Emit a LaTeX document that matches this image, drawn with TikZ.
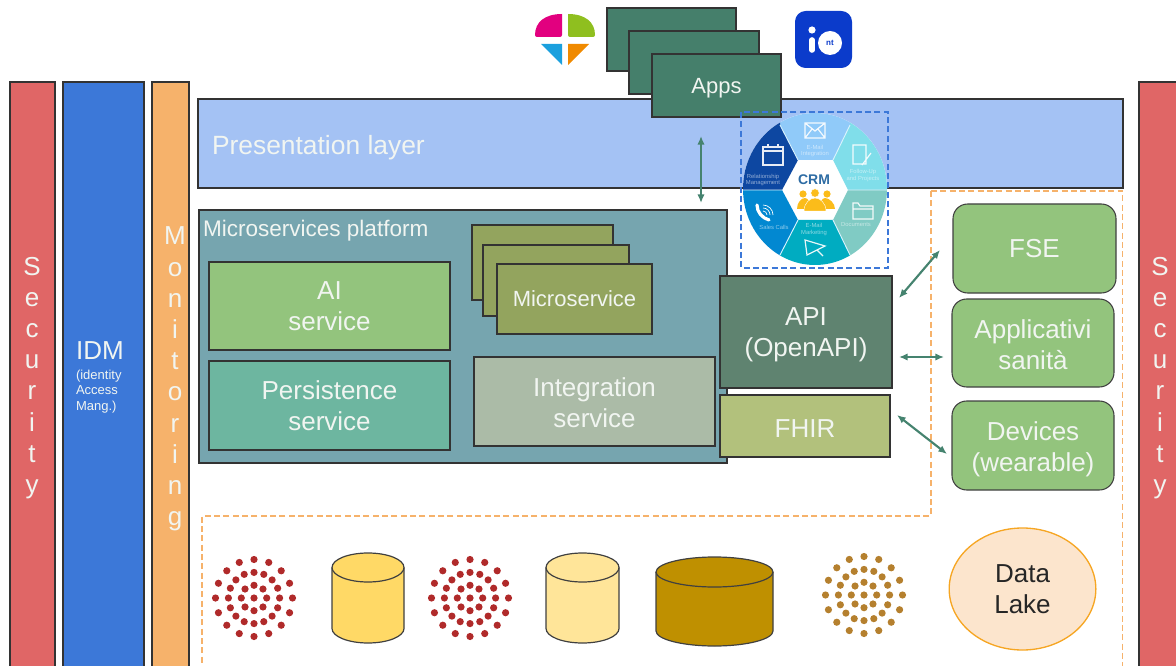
\documentclass[tikz,border=0pt]{standalone}
\usepackage{fontspec}
\setmainfont{Liberation Sans}
\usetikzlibrary{arrows.meta,shapes.geometric}
\definecolor{appg}{HTML}{457F6B}
\definecolor{pres}{HTML}{A4C2F4}
\definecolor{plat}{HTML}{76A5AF}
\definecolor{grn}{HTML}{93C47D}
\definecolor{pers}{HTML}{6DB6A0}
\definecolor{micro}{HTML}{93A45E}
\definecolor{integ}{HTML}{ABBBA7}
\definecolor{apic}{HTML}{5F8370}
\definecolor{fhir}{HTML}{B2C17C}
\definecolor{sec}{HTML}{E06666}
\definecolor{idm}{HTML}{3C78D8}
\definecolor{mon}{HTML}{F6B26B}
\definecolor{arr}{HTML}{45836F}
\definecolor{txt}{HTML}{F1F5F1}
\definecolor{wtop}{HTML}{90CAF9}
\definecolor{wur}{HTML}{80DEEA}
\definecolor{wlr}{HTML}{80CBC4}
\definecolor{wbot}{HTML}{00ACC1}
\definecolor{wll}{HTML}{0288D1}
\definecolor{wul}{HTML}{0D47A1}
\definecolor{ppl}{HTML}{FBBC1A}
\definecolor{crmc}{HTML}{2E6CA4}
\definecolor{cyla}{HTML}{FFD966}
\definecolor{cylb}{HTML}{FFE599}
\definecolor{cylc}{HTML}{BF9000}
\definecolor{dotr}{HTML}{B02A2A}
\definecolor{dotb}{HTML}{B5802E}
\definecolor{lakef}{HTML}{FCE5CD}
\definecolor{lakeb}{HTML}{F6A623}
\definecolor{iob}{HTML}{0B3BCB}
\definecolor{lgm}{HTML}{E2007F}
\definecolor{lgg}{HTML}{8FBF1F}
\definecolor{lgb}{HTML}{1BA0DE}
\definecolor{lgo}{HTML}{F08A00}
\tikzset{
  box/.style={draw=black!80,line width=.8pt,rectangle,inner sep=0pt,outer sep=0pt,text=txt,align=center},
  rbox/.style={box,fill=grn,rounded corners=11pt,draw=black!75},
  big/.style={font=\fontsize{19.5}{23.4}\selectfont},
  med/.style={font=\fontsize{16.5}{20}\selectfont},
  label/.style={text=txt,inner sep=0pt,outer sep=0pt},
  tiny/.style={text=white,text opacity=.55,inner sep=0pt,font=\fontsize{4.4}{5}\selectfont},
  darr/.style={draw=arr,line width=1.2pt,{Latex[length=6.5pt,width=5.5pt]}-{Latex[length=6.5pt,width=5.5pt]}},
  dashor/.style={draw=mon,line width=1pt,dash pattern=on 4.5pt off 2.5pt},
  dashbl/.style={draw=idm,line width=1pt,dash pattern=on 4.5pt off 2.5pt},
  cyl/.style={draw=black!75,line width=.9pt},
  ico/.style={draw=white,line width=.9pt,opacity=.9},
}
\newcommand\dn[2]{\raisebox{-#1}[\height][\depth]{#2}}
\newcommand\bx[7]{\node[#6,minimum width={((#4)-(#2))*0.75pt},minimum height={((#5)-(#3))*0.75pt}] (#1) at ({((#2)+(#4))/2},{((#3)+(#5))/2}) {#7};}
\newcommand\drum[6]{% x1 x2 y1 y2 ry colour
  \filldraw[cyl,fill=#6] (#1,#3+#5) -- (#1,#4-#5) arc[start angle=180,end angle=0,x radius={(#2-#1)/2},y radius=#5] -- (#2,#3+#5) arc[start angle=0,end angle=-180,x radius={(#2-#1)/2},y radius=#5] -- cycle;
  \draw[cyl] (#1,#3+#5) arc[start angle=180,end angle=0,x radius={(#2-#1)/2},y radius=#5];
}
\newcommand\cluster[3]{%
  \fill[#3] (#1,#2) circle[radius=3.6];
  \foreach \a in {0,45,...,315} \fill[#3] ({#1+12.7*cos(\a)},{#2+12.7*sin(\a)}) circle[radius=3.6];
  \foreach \a in {0,22.5,...,337.5} {
    \fill[#3] ({#1+25.6*cos(\a)},{#2+25.6*sin(\a)}) circle[radius=3.6];
    \fill[#3] ({#1+38.5*cos(\a)},{#2+38.5*sin(\a)}) circle[radius=3.6];
  }
}
\begin{document}
\begin{tikzpicture}[x=0.75pt,y=-0.75pt]
\useasboundingbox (0,0) rectangle (1176,666);
\clip (0,0) rectangle (1176,666);
% side bars
\bx{secl}{10}{82}{55}{680}{box,fill=sec}{}
\bx{idmb}{63}{82}{144}{680}{box,fill=idm}{}
\bx{monb}{152}{82}{189}{680}{box,fill=mon}{}
\bx{secr}{1139}{82}{1190}{680}{box,fill=sec}{}
\node[label,big,align=center] (sectl) at (32,378) {S\\e\\c\\u\\r\\i\\t\\y};
\node[label,big,align=center] (sectr) at (1160,378) {S\\e\\c\\u\\r\\i\\t\\y};
\node[label,big,align=center] (montl) at (175,379) {M\\o\\n\\i\\t\\o\\r\\i\\n\\g};
\node[label,big] (idmt) at (100,351) {IDM};
\node[label,anchor=north west,align=left,font=\fontsize{9.75}{11.6}\selectfont] (idms) at (76,370) {(identity\\Access\\Mang.)};
% presentation
\bx{presb}{198}{99}{1123}{188}{box,fill=pres}{}
\node[label,anchor=west,font=\fontsize{19.8}{23}\selectfont] (prest) at (212,148) {Presentation layer};
% apps
\bx{app1}{607}{8}{736}{71}{box,fill=appg}{}
\bx{app2}{629}{31}{759}{94}{box,fill=appg}{}
\bx{app3}{652}{54}{781}{117}{box,fill=appg,med}{\dn{2.25pt}{Apps}}
% logos
\fill[lgm,rounded corners=1.5pt] (562,14) -- (562,37) -- (535,37) .. controls (535,22) and (545,14) .. (562,14);
\fill[lgg,rounded corners=1.5pt] (568,14) -- (568,37) -- (595,37) .. controls (595,22) and (585,14) .. (568,14);
\fill[lgb] (541,44) -- (562,44) -- (562,65) -- cycle;
\fill[lgo] (568,44) -- (589,44) -- (568,65) -- cycle;
\node[rectangle,fill=iob,rounded corners=8pt,minimum width=42.75pt,minimum height=42.75pt,inner sep=0pt] (iologo) at (823.5,39.5) {};
\fill[white] (812,30) circle[radius=3.6];
\draw[white,line width=4.2pt,line cap=round] (812,40) -- (812,50);
\node[circle,fill=white,minimum size=18pt,inner sep=0pt,text=iob,font=\bfseries\fontsize{6}{6}\selectfont] (iot) at (830,43) {nt};
% microservices platform
\bx{platb}{199}{210}{727}{463}{box,fill=plat}{}
\node[label,anchor=west,font=\fontsize{16.9}{20}\selectfont] (platt) at (203,231) {Microservices platform};
\bx{ai}{209}{262}{450}{350}{box,fill=grn,big}{AI\\service}
\bx{persb}{209}{361}{450}{450}{box,fill=pers,big}{Persistence\\service}
\bx{ms1}{472}{225}{613}{300}{box,fill=micro}{}
\bx{ms2}{483}{245}{629}{316}{box,fill=micro}{}
\bx{ms3}{497}{264}{652}{334}{box,fill=micro,med}{Microservice}
\bx{integb}{474}{357}{715}{446}{box,fill=integ,big}{\dn{1.2pt}{Integration}\\\dn{1.2pt}{service}}
\bx{apib}{720}{276}{892}{388}{box,fill=apic,big}{\dn{2.25pt}{API}\\\dn{2.25pt}{(OpenAPI)}}
\bx{fhirb}{720}{395}{890}{457}{box,fill=fhir,big}{\dn{2.25pt}{FHIR}}
% right
\bx{fse}{953}{204}{1116}{293}{rbox,big}{FSE}
\bx{appl}{952}{299}{1114}{387}{rbox,big}{\dn{1.2pt}{Applicativi}\\\dn{1.2pt}{sanità}}
\bx{dev}{952}{401}{1114}{490}{rbox,big}{\dn{3pt}{Devices}\\\dn{3pt}{(wearable)}}
% dashed regions
\draw[dashor] (931,191) -- (1122.5,191) -- (1122.5,670);
\draw[dashor] (931,191) -- (931,516) -- (202,516) -- (202,670);
% CRM wheel
\begin{scope}
\clip (815,189) ellipse[x radius=72,y radius=76];
\fill[white] (740,110) rectangle (890,270);
\fill[wtop] (780,125) -- (798,160) -- (833,160) -- (850,125) -- (850,100) -- (780,100) -- cycle;
\fill[wur] (833,160) -- (848,190) -- (900,190) -- (900,100) -- (850,100) -- (850,125) -- cycle;
\fill[wlr] (848,190) -- (833,220) -- (850,255) -- (850,280) -- (900,280) -- (900,190) -- cycle;
\fill[wbot] (833,220) -- (798,220) -- (780,255) -- (780,280) -- (850,280) -- (850,255) -- cycle;
\fill[wll] (798,220) -- (782,190) -- (730,190) -- (730,280) -- (780,280) -- (780,255) -- cycle;
\fill[wul] (782,190) -- (798,160) -- (780,125) -- (780,100) -- (730,100) -- (730,190) -- cycle;
\draw[white!85!cyan,line width=.7pt] (798,160) -- (780,125) (833,160) -- (850,125) (848,190) -- (887,190) (833,220) -- (850,255) (798,220) -- (780,255) (782,190) -- (743,190);
\end{scope}
\node[text=crmc,font=\bfseries\fontsize{10.5}{11}\selectfont,inner sep=0pt] (crmt) at (814,180) {CRM};
% people
\fill[ppl] (803,194) circle[radius=3.6] (827,194) circle[radius=3.6];
\fill[ppl] (797,209) .. controls (797,203) and (801,198) .. (805,198) .. controls (808,198) and (811,203) .. (811,209) -- cycle;
\fill[ppl] (819,209) .. controls (819,203) and (822,198) .. (825,198) .. controls (829,198) and (835,203) .. (835,209) -- cycle;
\filldraw[fill=ppl,draw=white,line width=.3pt] (815,193) circle[radius=4.2];
\filldraw[fill=ppl,draw=white,line width=.3pt] (804,211) .. controls (804,203) and (810,198) .. (815,198) .. controls (820,198) and (826,203) .. (826,211) -- cycle;
% icons
\draw[ico] (805,123) rectangle (825,138) (805,123) -- (815,131) -- (825,123) (805,138) -- (812,129) (825,138) -- (818,129);
\draw[ico] (763,147) rectangle (783,165) (763,151) -- (783,151) (768,144.5) -- (768,148) (778,144.5) -- (778,148);
\draw[ico] (853,145) rectangle (866,164) (871,153) -- (862,165);
\draw[ico] (853,203) -- (858,203) -- (860,206) -- (873,206) -- (873,219) -- (853,219) -- cycle (853,209) -- (873,209);
\draw[ico] (805,240) -- (825,246) -- (817,250) -- (807,255) -- cycle (817,250) -- (823,256);
\draw[white,line width=2.4pt,line cap=round] (757,205) .. controls (757,212) and (762,218) .. (769,220);
\draw[white,line width=.5pt] (763,211) arc[start angle=-90,end angle=0,radius=4] (763,208) arc[start angle=-90,end angle=0,radius=7] (763,205) arc[start angle=-90,end angle=0,radius=10];
\node[tiny,align=center] (n1) at (815,151) {E-Mail\\Integration};
\node[tiny,align=center] (n2) at (863,175.5) {Follow-Up\\and Projects};
\node[tiny] (n3) at (856,225) {Documents};
\node[tiny,align=center] (n4) at (814,229.5) {E-Mail\\Marketing};
\node[tiny] (n5) at (774,227) {Sales Calls};
\node[tiny,align=center] (n6) at (763,180) {Relationship\\Management};
\draw[dashbl] (741,112) rectangle (888,268);
% arrows
\coordinate (a1) at (701,136); \coordinate (a2) at (701,203);
\coordinate (b1) at (940,250); \coordinate (b2) at (899,298);
\coordinate (c1) at (944,357); \coordinate (c2) at (899,357);
\coordinate (d1) at (947,454); \coordinate (d2) at (897,415);
\draw[darr] (a1) -- (a2);
\draw[darr,line width=1.6pt] (b1) -- (b2);
\draw[darr] (c1) -- (c2);
\draw[darr,line width=1.6pt] (d1) -- (d2);
% data layer
\cluster{254}{598}{dotr}
\drum{332}{404}{553}{643}{14.5}{cyla}
\cluster{470}{598}{dotr}
\drum{546}{619}{553}{643}{14.5}{cylb}
\drum{656}{773}{557}{646}{15}{cylc}
\cluster{864}{595}{dotb}
\node[ellipse,draw=lakeb,fill=lakef,line width=1pt,inner sep=0pt,minimum width=110pt,minimum height=91.5pt,text=black!85,align=center,big] (lake) at (1022.5,589) {Data\\Lake};
\end{tikzpicture}
\end{document}
